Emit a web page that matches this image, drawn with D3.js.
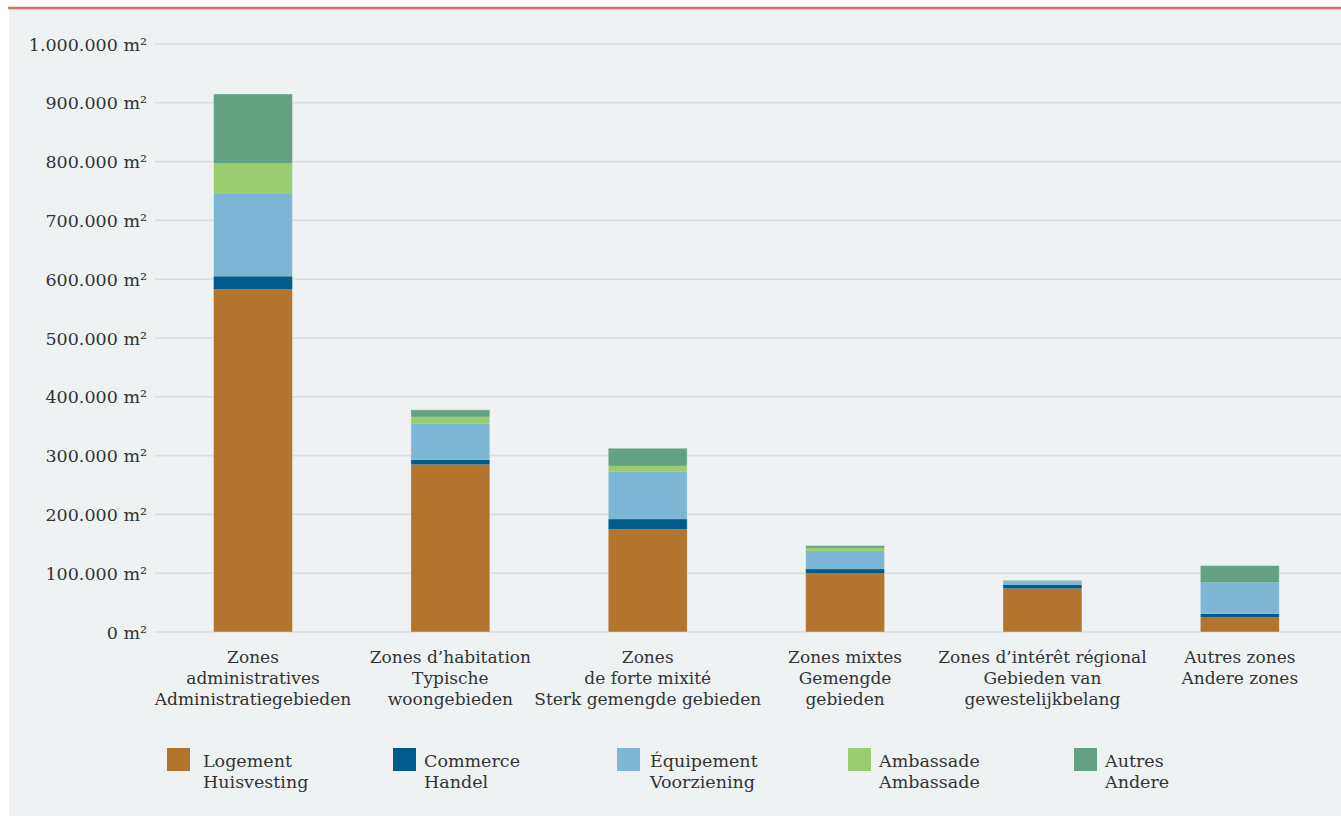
<!DOCTYPE html>
<html>
<head>
<meta charset="utf-8">
<script src="https://cdn.jsdelivr.net/npm/d3@7/dist/d3.min.js"></script>
<style>
  html, body { margin: 0; padding: 0; background: #ffffff; }
  svg { display: block; }
  text { font-family: "DejaVu Serif", serif; fill: #333333; }
</style>
</head>
<body>
<svg id="chart" width="1341" height="816"></svg>
<script>
// Zone categories (multi-line labels: French / Dutch)
const categories = ["admin", "habitation", "forte", "mixtes", "interet", "autres"];
const categoryLabels = [
  ["Zones", "administratives", "Administratiegebieden"],
  ["Zones d’habitation", "Typische", "woongebieden"],
  ["Zones", "de forte mixité", "Sterk gemengde gebieden"],
  ["Zones mixtes", "Gemengde", "gebieden"],
  ["Zones d’intérêt régional", "Gebieden van", "gewestelijkbelang"],
  ["Autres zones", "Andere zones"]
];

// Floor area per use, in m²
const logement   = [583000, 285000, 175000, 100000, 74000, 25500];
const commerce   = [22000,    8000,  17000,   7000,  6000,  5500];
const equipement = [140000,  61000,  80500,  31000,  5000, 53500];
const ambassade  = [52000,   12000,  10000,   5000,  2000,     0];
const autres     = [118000,  12000,  30000,   4000,  1000, 28500];

const seriesKeys = ["logement", "commerce", "equipement", "ambassade", "autres"];
const seriesLabels = [
  ["Logement", "Huisvesting"],
  ["Commerce", "Handel"],
  ["Équipement", "Voorziening"],
  ["Ambassade", "Ambassade"],
  ["Autres", "Andere"]
];
const seriesColors = ["#b3742e", "#005b8a", "#7eb6d6", "#9acd70", "#62a283"];

const yTicks = [0, 100000, 200000, 300000, 400000, 500000, 600000, 700000, 800000, 900000, 1000000];

const seriesValues = { logement, commerce, equipement, ambassade, autres };
const table = categories.map((c, i) => {
  const row = { cat: c };
  seriesKeys.forEach(k => row[k] = seriesValues[k][i]);
  return row;
});

const svg = d3.select("#chart");
const W = 1341, H = 816;

// panel background and top rule
svg.append("rect").attr("x", 9).attr("y", 9).attr("width", W - 9).attr("height", H - 9).attr("fill", "#eef2f3");
svg.append("line").attr("x1", 8).attr("x2", W).attr("y1", 8).attr("y2", 8)
  .attr("stroke", "#d8725c").attr("stroke-width", 2.5);

const x = d3.scaleBand().domain(categories).range([154.3, 1338.5]).paddingInner(0.6).paddingOuter(0.3);
const y = d3.scaleLinear().domain([0, 1000000]).range([632, 44]);

const fmt = v => d3.format(",")(v).replace(/,/g, ".") + " m²";

// y axis gridlines and labels
svg.append("g").selectAll("line").data(yTicks).join("line")
  .attr("x1", 155).attr("x2", W).attr("y1", d => y(d)).attr("y2", d => y(d))
  .attr("stroke", "#dadddf").attr("stroke-width", 1.6);

const yAxis = d3.axisLeft(y).tickValues(yTicks).tickFormat(fmt).tickSize(0).tickPadding(0);
const gy = svg.append("g").attr("transform", "translate(147,0)").call(yAxis);
gy.select(".domain").remove();
gy.selectAll("text").attr("font-size", 17.5).attr("fill", "#333").attr("font-family", "DejaVu Serif").attr("dy", "0.35em");

// stacked bars
const stack = d3.stack().keys(seriesKeys)(table);
const color = d3.scaleOrdinal().domain(seriesKeys).range(seriesColors);

svg.append("g").selectAll("g").data(stack).join("g")
  .attr("fill", d => color(d.key))
  .selectAll("rect").data(d => d).join("rect")
  .attr("x", d => x(d.data.cat))
  .attr("width", x.bandwidth())
  .attr("y", d => y(d[1]))
  .attr("height", d => Math.max(0, y(d[0]) - y(d[1])));

// subtle outline around each full bar
svg.append("g").selectAll("rect").data(table).join("rect")
  .attr("x", d => x(d.cat))
  .attr("width", x.bandwidth())
  .attr("y", d => y(d3.sum(seriesKeys, k => d[k])))
  .attr("height", d => y(0) - y(d3.sum(seriesKeys, k => d[k])))
  .attr("fill", "none").attr("stroke", "rgba(255,255,255,0.35)").attr("stroke-width", 1);

// x axis labels
const xAxis = d3.axisBottom(x).tickSize(0).tickFormat("");
const gx = svg.append("g").attr("transform", "translate(0,632)").call(xAxis);
gx.select(".domain").remove();
gx.selectAll(".tick").each(function(d, i) {
  const t = d3.select(this).append("text")
    .attr("text-anchor", "middle").attr("font-size", 17).attr("fill", "#333")
    .attr("font-family", "DejaVu Serif");
  categoryLabels[i].forEach((line, j) => {
    t.append("tspan").attr("x", 0).attr("y", 31 + j * 21).text(line);
  });
});

// legend
const legendSwatchX = [167, 393, 617, 848, 1074];
const legendTextX = [203, 424, 650, 879, 1105];
const lg = svg.append("g").selectAll("g").data(seriesKeys).join("g");
lg.append("rect")
  .attr("x", (d, i) => legendSwatchX[i]).attr("y", 748)
  .attr("width", 23).attr("height", 23).attr("fill", (d, i) => seriesColors[i]);
lg.each(function(d, i) {
  const t = d3.select(this).append("text").attr("font-size", 17.5).attr("fill", "#333");
  seriesLabels[i].forEach((line, j) => {
    t.append("tspan").attr("x", legendTextX[i]).attr("y", 767 + j * 21).text(line);
  });
});
</script>
</body>
</html>
